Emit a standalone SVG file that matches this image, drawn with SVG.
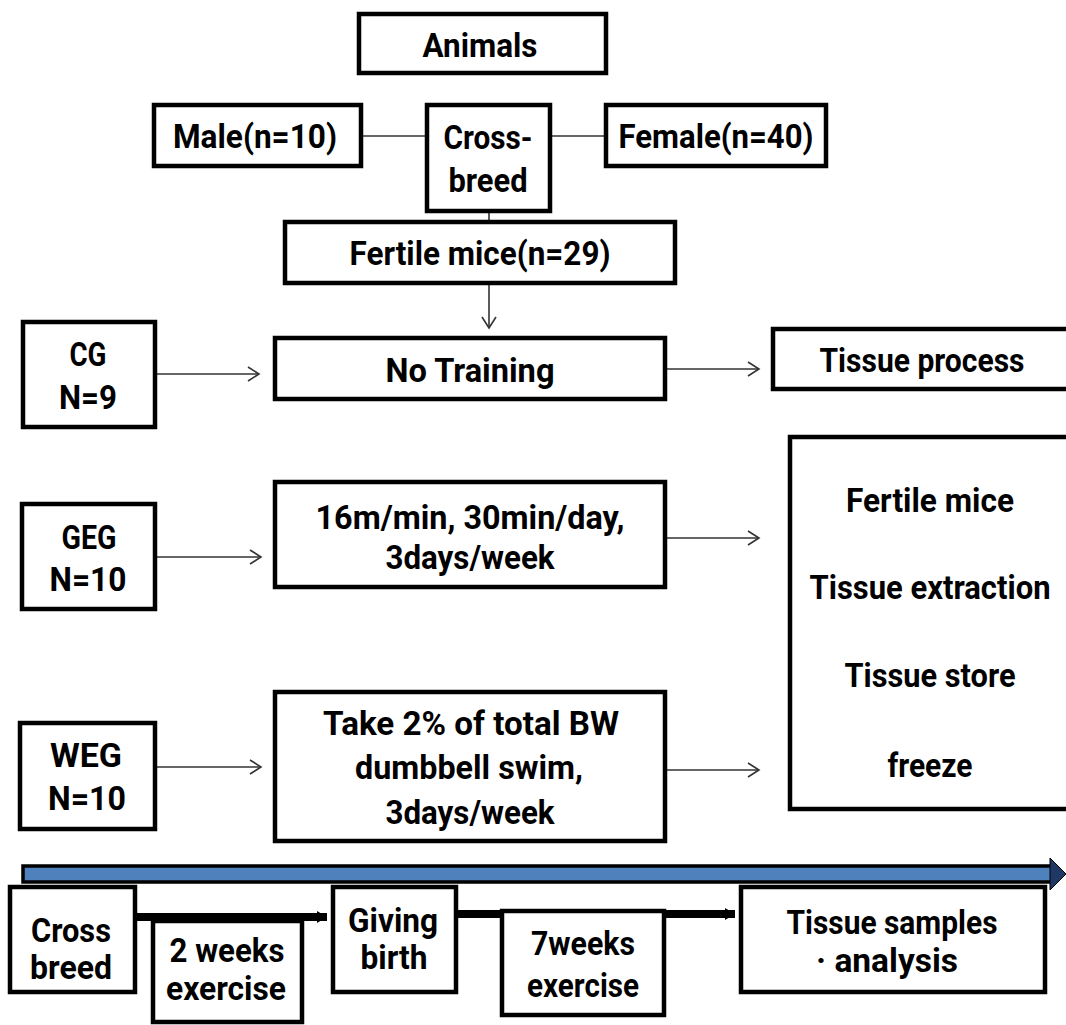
<svg xmlns="http://www.w3.org/2000/svg" width="1066" height="1025" viewBox="0 0 1066 1025">
<defs>
<style>
.box{fill:#fff;stroke:#000;stroke-width:4.5}
.t{font-family:Roboto,"Noto Sans",sans-serif;font-weight:700;font-size:33px;fill:#000;text-anchor:middle;dominant-baseline:central}
.thin{stroke:#333;stroke-width:1.6;fill:none}
.thick{stroke:#000;stroke-width:8;fill:none}
</style>
<marker id="chev" markerUnits="userSpaceOnUse" markerWidth="14" markerHeight="18" refX="12" refY="8" orient="auto">
<path d="M1,1 L12,8 L1,15" fill="none" stroke="#333" stroke-width="1.6"/>
</marker>
<marker id="tri" markerUnits="userSpaceOnUse" markerWidth="12" markerHeight="16" refX="10" refY="8" orient="auto">
<path d="M0,2 L10,8 L0,14 Z" fill="#000"/>
</marker>
</defs>
<rect width="1066" height="1025" fill="#fff"/>
<g id="connectors">
<line class="thin" x1="361" y1="136" x2="427" y2="136"/>
<line class="thin" x1="550" y1="136" x2="606" y2="136"/>
<line class="thin" x1="489" y1="211" x2="489" y2="221"/>
<line class="thin" x1="489" y1="283" x2="489" y2="328" marker-end="url(#chev)"/>
<line class="thin" x1="155" y1="374" x2="259" y2="374" marker-end="url(#chev)"/>
<line class="thin" x1="665" y1="369" x2="759" y2="369" marker-end="url(#chev)"/>
<line class="thin" x1="155" y1="557" x2="261" y2="557" marker-end="url(#chev)"/>
<line class="thin" x1="665" y1="538" x2="759" y2="538" marker-end="url(#chev)"/>
<line class="thin" x1="155" y1="767" x2="261" y2="767" marker-end="url(#chev)"/>
<line class="thin" x1="665" y1="770" x2="759" y2="770" marker-end="url(#chev)"/>
<line class="thick" x1="135" y1="917" x2="327" y2="917" marker-end="url(#tri)"/>
<line class="thick" x1="456" y1="914" x2="735" y2="914" marker-end="url(#tri)"/>
</g>
<g id="timeline">
<rect x="23" y="866" width="1030" height="16" fill="#4f81bd" stroke="#000" stroke-width="3.5"/>
<polygon points="1050,858 1066,874 1050,890" fill="#1f3864" stroke="#000" stroke-width="1"/>
</g>
<g id="animals"><rect class="box" x="359" y="14" width="247" height="59"/><text class="t" x="480" y="45" textLength="115" lengthAdjust="spacingAndGlyphs">Animals</text></g>
<g id="male"><rect class="box" x="154" y="105" width="207" height="61"/><text class="t" x="255" y="136" textLength="164" lengthAdjust="spacingAndGlyphs">Male(n=10)</text></g>
<g id="crossbreed"><rect class="box" x="427" y="105" width="123" height="106"/><text class="t" x="488" y="137" textLength="89" lengthAdjust="spacingAndGlyphs">Cross-</text><text class="t" x="488" y="180" textLength="79" lengthAdjust="spacingAndGlyphs">breed</text></g>
<g id="female"><rect class="box" x="606" y="105" width="220" height="61"/><text class="t" x="716" y="136" textLength="195" lengthAdjust="spacingAndGlyphs">Female(n=40)</text></g>
<g id="fertile"><rect class="box" x="285" y="222" width="390" height="61"/><text class="t" x="480" y="253" textLength="261" lengthAdjust="spacingAndGlyphs">Fertile mice(n=29)</text></g>
<g id="cg"><rect class="box" x="23" y="322" width="132" height="105"/><text class="t" x="88" y="354" textLength="37" lengthAdjust="spacingAndGlyphs">CG</text><text class="t" x="88" y="397" textLength="58" lengthAdjust="spacingAndGlyphs">N=9</text></g>
<g id="notraining"><rect class="box" x="275" y="338" width="390" height="61"/><text class="t" x="470" y="370" textLength="169" lengthAdjust="spacingAndGlyphs">No Training</text></g>
<g id="tissueprocess"><rect class="box" x="773" y="329" width="300" height="60"/><text class="t" x="922" y="360" textLength="205" lengthAdjust="spacingAndGlyphs">Tissue process</text></g>
<g id="geg"><rect class="box" x="22" y="504" width="133" height="105"/><text class="t" x="89" y="537" textLength="55" lengthAdjust="spacingAndGlyphs">GEG</text><text class="t" x="88" y="579" textLength="77" lengthAdjust="spacingAndGlyphs">N=10</text></g>
<g id="treadmill"><rect class="box" x="275" y="482" width="390" height="105"/><text class="t" x="470" y="517" textLength="309" lengthAdjust="spacingAndGlyphs">16m/min, 30min/day,</text><text class="t" x="470" y="557" textLength="169" lengthAdjust="spacingAndGlyphs">3days/week</text></g>
<g id="weg"><rect class="box" x="20" y="723" width="135" height="106"/><text class="t" x="86" y="755" textLength="72" lengthAdjust="spacingAndGlyphs">WEG</text><text class="t" x="87" y="798" textLength="78" lengthAdjust="spacingAndGlyphs">N=10</text></g>
<g id="swim"><rect class="box" x="275" y="692" width="390" height="149"/><text class="t" x="471" y="723" textLength="296" lengthAdjust="spacingAndGlyphs">Take 2% of total BW</text><text class="t" x="469" y="767" textLength="228" lengthAdjust="spacingAndGlyphs">dumbbell swim,</text><text class="t" x="470" y="812" textLength="169" lengthAdjust="spacingAndGlyphs">3days/week</text></g>
<g id="processing"><rect class="box" x="790" y="437" width="283" height="372"/><text class="t" x="930" y="500" textLength="168" lengthAdjust="spacingAndGlyphs">Fertile mice</text><text class="t" x="930" y="587" textLength="241" lengthAdjust="spacingAndGlyphs">Tissue extraction</text><text class="t" x="930" y="675" textLength="171" lengthAdjust="spacingAndGlyphs">Tissue store</text><text class="t" x="930" y="765" textLength="85" lengthAdjust="spacingAndGlyphs">freeze</text></g>
<g id="tl-crossbreed"><rect class="box" x="10" y="887" width="125" height="105"/><text class="t" x="71" y="930" textLength="80" lengthAdjust="spacingAndGlyphs">Cross</text><text class="t" x="71" y="967" textLength="82" lengthAdjust="spacingAndGlyphs">breed</text></g>
<g id="tl-2weeks"><rect class="box" x="153" y="921" width="149" height="101"/><text class="t" x="227" y="950" textLength="115" lengthAdjust="spacingAndGlyphs">2 weeks</text><text class="t" x="226" y="988" textLength="120" lengthAdjust="spacingAndGlyphs">exercise</text></g>
<g id="tl-birth"><rect class="box" x="333" y="887" width="123" height="105"/><text class="t" x="393" y="920" textLength="90" lengthAdjust="spacingAndGlyphs">Giving</text><text class="t" x="394" y="957" textLength="67" lengthAdjust="spacingAndGlyphs">birth</text></g>
<g id="tl-7weeks"><rect class="box" x="502" y="911" width="162" height="104"/><text class="t" x="583" y="943" textLength="104" lengthAdjust="spacingAndGlyphs">7weeks</text><text class="t" x="583" y="985" textLength="112" lengthAdjust="spacingAndGlyphs">exercise</text></g>
<g id="tl-samples"><rect class="box" x="741" y="887" width="304" height="105"/><text class="t" x="892" y="922" textLength="211" lengthAdjust="spacingAndGlyphs">Tissue samples</text><text class="t" x="887" y="960" textLength="142" lengthAdjust="spacingAndGlyphs">· analysis</text></g>
</svg>
